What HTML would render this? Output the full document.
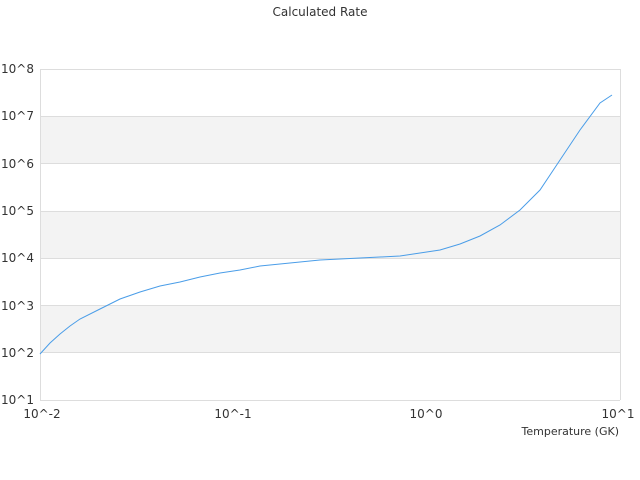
<!DOCTYPE html>
<html><head><meta charset="utf-8"><style>
body{margin:0;background:#fff;}
svg{display:block;font-family:"DejaVu Sans","Liberation Sans",sans-serif;}
</style></head><body>
<svg width="640" height="480" viewBox="0 0 640 480" xmlns="http://www.w3.org/2000/svg">
<rect width="640" height="480" fill="#fff"/>
<text x="320" y="16" font-size="12" fill="#333" text-anchor="middle">Calculated Rate</text>
<rect x="40" y="116.3" width="580" height="47.3" fill="#f3f3f3"/>
<rect x="40" y="210.9" width="580" height="47.3" fill="#f3f3f3"/>
<rect x="40" y="305.5" width="580" height="47.3" fill="#f3f3f3"/>
<g stroke="#ddd" stroke-width="1">
<line x1="40" y1="69.5" x2="620" y2="69.5"/>
<line x1="40" y1="116.5" x2="620" y2="116.5"/>
<line x1="40" y1="163.5" x2="620" y2="163.5"/>
<line x1="40" y1="211.5" x2="620" y2="211.5"/>
<line x1="40" y1="258.5" x2="620" y2="258.5"/>
<line x1="40" y1="305.5" x2="620" y2="305.5"/>
<line x1="40" y1="352.5" x2="620" y2="352.5"/>
<line x1="40" y1="400.5" x2="620" y2="400.5"/>
<line x1="40.5" y1="69" x2="40.5" y2="400"/>
<line x1="620.5" y1="69" x2="620.5" y2="400"/>
</g>
<g font-size="12" fill="#333" text-anchor="end">
<text x="34" y="73">10^8</text>
<text x="34" y="120">10^7</text>
<text x="34" y="168">10^6</text>
<text x="34" y="215">10^5</text>
<text x="34" y="262">10^4</text>
<text x="34" y="310">10^3</text>
<text x="34" y="357">10^2</text>
<text x="34" y="404">10^1</text>
</g>
<g font-size="12" fill="#333" text-anchor="middle">
<text x="42" y="418">10^-2</text>
<text x="233" y="418">10^-1</text>
<text x="426" y="418">10^0</text>
<text x="618" y="418">10^1</text>
</g>
<text x="619" y="435" font-size="11" fill="#333" text-anchor="end">Temperature (GK)</text>
<polyline fill="none" stroke="#4a9de8" stroke-width="1" points="40,354 50,343 60,334 70,326 80,319 100,309 120,299 140,292 160,286 180,282 200,277 220,273 240,270 260,266 280,264 300,262 320,260 340,259 360,258 380,257 400,256 420,253 440,250 460,244 480,236 500,225 520,210 540,190 560,160 580,130 600,103 612,95"/>
</svg>
</body></html>
